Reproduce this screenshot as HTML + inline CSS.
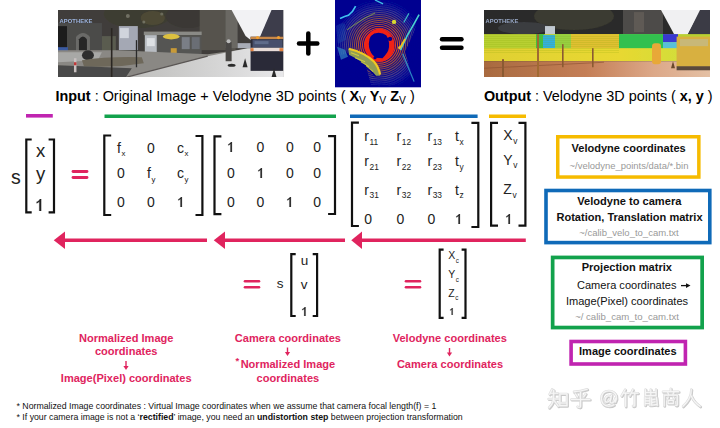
<!DOCTYPE html>
<html><head><meta charset="utf-8"><style>
html,body{margin:0;padding:0;background:#fff;}
body{width:720px;height:428px;position:relative;overflow:hidden;font-family:"Liberation Sans", sans-serif;}
.t{position:absolute;white-space:nowrap;line-height:1;}
.sb{font-size:0.72em;font-weight:normal;vertical-align:-0.25em;}
.sx{font-size:0.56em;vertical-align:-0.45em;margin-left:0.6px;}
.sy{font-size:0.56em;vertical-align:-0.45em;margin-left:0.6px;}
.sr{font-size:0.6em;vertical-align:-0.45em;margin-left:0.6px;}
.sc{font-size:0.6em;vertical-align:-0.6em;margin-left:0.5px;}
.one{display:inline-block;width:0.556em;height:0.72em;position:relative;}
.one svg{position:absolute;left:0;top:0;width:100%;height:100%;}
.ast{font-size:0.7em;vertical-align:0.45em;}
svg{position:absolute;left:0;top:0;}
</style></head><body>
<svg style="position:absolute;left:58px;top:10px" width="225.5" height="67.3" viewBox="0 0 226 67" preserveAspectRatio="none">
<defs>
<filter id="bl1" x="-5%" y="-5%" width="110%" height="110%"><feGaussianBlur stdDeviation="0.7"/></filter>
<linearGradient id="road" x1="0" y1="0" x2="1" y2="0"><stop offset="0" stop-color="#bdbdbb"/><stop offset="0.6" stop-color="#d6d6d6"/><stop offset="1" stop-color="#e8e8ea"/></linearGradient>
<clipPath id="sc"><rect width="226" height="67"/></clipPath>
</defs>
<g filter="url(#bl1)" clip-path="url(#sc)">
<rect width="226" height="67" fill="#403e3a"/>
<!-- canopy -->
<ellipse cx="80" cy="4" rx="34" ry="14" fill="#3e3c30"/>
<ellipse cx="95" cy="8" rx="12" ry="7" fill="#4e4a36"/>
<ellipse cx="130" cy="6" rx="22" ry="12" fill="#3a3934"/>
<circle cx="70" cy="6" r="2" fill="#707064"/><circle cx="104" cy="4" r="1.6" fill="#6a6a5a"/><circle cx="86" cy="12" r="1.5" fill="#707060"/>
<!-- left building -->
<rect x="0" y="13" width="44" height="28" fill="#4c4c4a"/>
<rect x="0" y="16" width="9" height="24" fill="#1e1e1e"/>
<path d="M18 41 V27 Q25 19 32 27 V41 Z" fill="#6a6a68"/>
<path d="M21 41 V29 Q25 24 29 29 V41 Z" fill="#262626"/>
<text x="1.5" y="12.6" font-family="Liberation Sans" font-weight="bold" font-size="5.8" fill="#9cb4e0" letter-spacing="0.1">APOTHEKE</text>
<rect x="0" y="37" width="10" height="6" fill="#3a5aa0"/>
<rect x="0" y="43" width="6" height="4" fill="#c04030"/>
<!-- white building -->
<rect x="61" y="16" width="19" height="24" fill="#a4a8b4"/>
<rect x="62" y="18" width="9" height="10" fill="#d0d4dc"/>
<rect x="44" y="26" width="14" height="15" fill="#5a5c50"/>
<!-- middle buildings -->
<rect x="142" y="0" width="36" height="40" fill="#56534e"/>
<rect x="168" y="0" width="12" height="38" fill="#6a6864"/>
<!-- sky -->
<path d="M174 0 H215 L203 27 L196 32 L188 26 Z" fill="#f2f2f4"/>
<path d="M214 0 H226 V30 H201 Z" fill="#3c3c4c"/>
<!-- shelter -->
<rect x="86" y="21.5" width="58" height="3.5" fill="#8a8a86"/>
<rect x="99" y="25" width="45" height="23" fill="#545452"/>
<rect x="124" y="27" width="8" height="12" fill="#7a7e86"/><rect x="134" y="27" width="8" height="12" fill="#6a6e74"/>
<rect x="87" y="25" width="12" height="22" fill="#b8bcc2"/>
<rect x="89" y="28" width="8" height="8" fill="#dde0e4"/>
<ellipse cx="113.5" cy="26.5" rx="8.5" ry="2.8" fill="#dcc040"/>
<rect x="113" y="38" width="6" height="10" fill="#c89a38"/>
<!-- plaza / sidewalk -->
<path d="M0 40 H60 L150 44 L200 37 L226 37 V67 H0 Z" fill="#8a8884"/>
<path d="M0 42 H44 L40 50 L0 52 Z" fill="#a8a8a6"/>
<ellipse cx="30" cy="45" rx="6" ry="5" fill="#2e2e2e"/>
<path d="M24 50 Q50 46 84 47 L86 53 Q56 58 26 56 Z" fill="#6e685a"/>
<path d="M0 55 L74 58 L68 67 H0 Z" fill="#4a4a48"/>
<!-- road -->
<path d="M68 67 L150 46 L190 38 L226 38 V67 Z" fill="url(#road)"/>
<path d="M68 67 L150 46" stroke="#5a5654" stroke-width="1.2"/>
<!-- cyclist -->
<rect x="168" y="32" width="6" height="19" fill="#4a4644"/>
<circle cx="171" cy="31" r="2" fill="#bbb"/>
<ellipse cx="174" cy="55" rx="4" ry="1.6" fill="#2a2a2a"/>
<rect x="180" y="33" width="14" height="5" fill="#a8acb6"/>
<!-- truck -->
<rect x="193" y="26.6" width="33" height="34" fill="#2c2c38"/>
<rect x="193" y="26.6" width="33" height="2.4" fill="#c88848"/>
<circle cx="200" cy="27.5" r="1.6" fill="#f0a030"/><circle cx="221" cy="27.5" r="1.6" fill="#f0a030"/>
<rect x="195" y="29.5" width="30" height="8" fill="#46506c"/>
<rect x="197" y="31" width="14" height="3" fill="#6a7898" opacity="0.7"/>
<rect x="193" y="37.6" width="33" height="3.4" fill="#e8dcd8"/>
<rect x="193" y="38" width="3" height="3" fill="#e08040"/><rect x="222" y="38" width="4" height="3" fill="#e08040"/>
<!-- cones -->
<path d="M185 57 L187.5 48 L190 57 Z" fill="#2a2a2a"/>
<path d="M214 67 L216.5 58 L219 67 Z" fill="#2a2a2a"/>
<!-- poles -->
<rect x="16" y="48" width="2.5" height="14" fill="#c8c0c0"/><rect x="16" y="52" width="2.5" height="3" fill="#c03838"/>
<rect x="53" y="18" width="1.6" height="49" fill="#2a2824"/>
<rect x="78" y="30" width="1.3" height="27" fill="#2a2a2a"/>
</g>
</svg><svg style="position:absolute;left:334.6px;top:0px" width="86.1" height="87.6" viewBox="0 0 86 88" preserveAspectRatio="none">
<defs>
<filter id="bl2" x="-5%" y="-5%" width="110%" height="110%"><feGaussianBlur stdDeviation="0.45"/></filter>
<radialGradient id="rg" cx="44" cy="45" r="46" gradientUnits="userSpaceOnUse">
<stop offset="0.32" stop-color="#f04018"/><stop offset="0.44" stop-color="#c85a28"/><stop offset="0.56" stop-color="#8a5048"/><stop offset="0.72" stop-color="#4a4088"/><stop offset="1" stop-color="#2038b0"/></radialGradient>
<radialGradient id="rf" cx="44" cy="45" r="46" gradientUnits="userSpaceOnUse">
<stop offset="0.75" stop-color="#fff" stop-opacity="1"/><stop offset="1" stop-color="#fff" stop-opacity="0"/></radialGradient>
<mask id="lm"><rect width="86" height="88" fill="url(#rf)"/></mask>
<clipPath id="lc"><rect width="86" height="88"/></clipPath>
</defs>
<g filter="url(#bl2)" clip-path="url(#lc)">
<rect width="86" height="88" fill="#000090"/>
<g mask="url(#lm)">
<path d="M0 23 L10 20 L16 0 L70 0 L84 12 L80 30 L70 52 L80 86 L36 86 L30 62 L16 52 L2 57 Z" fill="url(#rg)"/>
<circle cx="44" cy="45" r="15.5" fill="none" stroke="#000090" stroke-width="1.05" opacity="0.85"/><circle cx="44" cy="45" r="17.5" fill="none" stroke="#000090" stroke-width="1.05" opacity="0.85"/><circle cx="44" cy="45" r="19.5" fill="none" stroke="#000090" stroke-width="1.05" opacity="0.85"/><circle cx="44" cy="45" r="21.5" fill="none" stroke="#000090" stroke-width="1.05" opacity="0.85"/><circle cx="44" cy="45" r="23.5" fill="none" stroke="#000090" stroke-width="1.05" opacity="0.85"/><circle cx="44" cy="45" r="25.5" fill="none" stroke="#000090" stroke-width="1.05" opacity="0.85"/><circle cx="44" cy="45" r="27.5" fill="none" stroke="#000090" stroke-width="1.05" opacity="0.85"/><circle cx="44" cy="45" r="29.5" fill="none" stroke="#000090" stroke-width="1.05" opacity="0.85"/><circle cx="44" cy="45" r="31.5" fill="none" stroke="#000090" stroke-width="1.05" opacity="0.85"/><circle cx="44" cy="45" r="33.5" fill="none" stroke="#000090" stroke-width="1.05" opacity="0.85"/><circle cx="44" cy="45" r="35.5" fill="none" stroke="#000090" stroke-width="1.05" opacity="0.85"/><circle cx="44" cy="45" r="37.5" fill="none" stroke="#000090" stroke-width="1.05" opacity="0.85"/><circle cx="44" cy="45" r="39.5" fill="none" stroke="#000090" stroke-width="1.05" opacity="0.85"/><circle cx="44" cy="45" r="41.5" fill="none" stroke="#000090" stroke-width="1.05" opacity="0.85"/><circle cx="44" cy="45" r="43.5" fill="none" stroke="#000090" stroke-width="1.05" opacity="0.85"/><circle cx="44" cy="45" r="45.5" fill="none" stroke="#000090" stroke-width="1.05" opacity="0.85"/><circle cx="44" cy="45" r="47.5" fill="none" stroke="#000090" stroke-width="1.05" opacity="0.85"/><circle cx="44" cy="45" r="49.5" fill="none" stroke="#000090" stroke-width="1.05" opacity="0.85"/><circle cx="44" cy="45" r="51.5" fill="none" stroke="#000090" stroke-width="1.05" opacity="0.85"/><circle cx="44" cy="45" r="53.5" fill="none" stroke="#000090" stroke-width="1.05" opacity="0.85"/><circle cx="44" cy="45" r="55.5" fill="none" stroke="#000090" stroke-width="1.05" opacity="0.85"/><circle cx="44" cy="45" r="57.5" fill="none" stroke="#000090" stroke-width="1.05" opacity="0.85"/><circle cx="44" cy="45" r="59.5" fill="none" stroke="#000090" stroke-width="1.05" opacity="0.85"/>
</g>
<ellipse cx="44.5" cy="45.5" rx="15" ry="16.5" fill="#f02414"/>
<path d="M33.8 44 Q33.8 33.5 43.5 33 Q53.5 33 54 43.5 Q54.5 51 50.5 55 L47.5 58.5 L40.5 58 L37 54.5 Q33.8 50 33.8 44 Z" fill="#000090"/>
<circle cx="55" cy="39" r="2.2" fill="#000090"/>
<circle cx="40" cy="58" r="1.6" fill="#000090"/>
<!-- yellow arc lower-left -->
<path d="M13 48 Q28 52 38 62 Q44 69 45 76 L40 77 Q34 70 26 64 Q18 59 12 57 Z" fill="#000090"/>
<path d="M13 48.5 Q28 52 38 62 Q44 69 45 76 L41 76 Q36 69 28 63 Q20 58 14 55 Z" fill="#c0d040" opacity="0.75"/>
<path d="M16 53 L24 56 M20 58 L30 62 M26 62 L34 67 M31 66 L38 72" stroke="#e0d838" stroke-width="1" opacity="0.8"/>
<path d="M14 49 Q30 53 39 62 Q44 68 45 75" fill="none" stroke="#f0c820" stroke-width="2.2"/>
<path d="M2 47 L10 50 L13 57 L6 60 Z" fill="#3898c8" opacity="0.6"/>
<path d="M1 26 Q6 22 10 24 L11 40 L3 44 Z" fill="#2878c0" opacity="0.25"/>
<!-- cyan streaks -->
<path d="M5 18.5 Q10 16.5 13.4 15.4 Q18 12 20.6 6.2" fill="none" stroke="#40c0f0" stroke-width="1.6"/>
<path d="M40 0 L48 4" fill="none" stroke="#40c0e8" stroke-width="1.4"/>
<path d="M84 14.7 Q78 26 72 36 L65.4 50.4" fill="none" stroke="#48d0d0" stroke-width="1.6"/>
<path d="M70 39 L65 48" fill="none" stroke="#f0c020" stroke-width="1.8"/>
<path d="M73.8 13.4 L68.7 22.6" fill="none" stroke="#40b8c8" stroke-width="1.2"/>
<circle cx="59" cy="22" r="2.2" fill="#d8d830"/>
<path d="M12 30 Q20 24 30 18 L40 13" fill="none" stroke="#98b848" stroke-width="1.1" opacity="0.6"/>
<path d="M67.6 54 L79 82" fill="none" stroke="#38b8d8" stroke-width="1.3" opacity="0.7"/>
<circle cx="64.5" cy="48" r="1.5" fill="#f0c030"/>
</g>
</svg><svg style="position:absolute;left:484px;top:10px" width="226" height="67.3" viewBox="0 0 226 67" preserveAspectRatio="none">
<defs>
<filter id="bl3" x="-5%" y="-5%" width="110%" height="110%"><feGaussianBlur stdDeviation="0.7"/></filter>
<linearGradient id="yb" x1="0" y1="0" x2="1" y2="0"><stop offset="0" stop-color="#e0d030"/><stop offset="0.6" stop-color="#e8d830"/><stop offset="1" stop-color="#c8e040"/></linearGradient>
<linearGradient id="road2" x1="0" y1="0" x2="1" y2="0"><stop offset="0" stop-color="#a86a40"/><stop offset="0.45" stop-color="#c47e56"/><stop offset="0.75" stop-color="#dca888"/><stop offset="1" stop-color="#e4c0a4"/></linearGradient>
<clipPath id="oc"><rect width="226" height="67"/></clipPath>
</defs>
<g filter="url(#bl3)" clip-path="url(#oc)">
<rect width="226" height="67" fill="#2c2c2a"/>
<ellipse cx="90" cy="6" rx="40" ry="14" fill="#3a3a30"/>
<ellipse cx="40" cy="18" rx="26" ry="6" fill="#3a3c40"/>
<text x="1.5" y="12.6" font-family="Liberation Sans" font-weight="bold" font-size="5.8" fill="#98a8c8" letter-spacing="0.1">APOTHEKE</text>
<rect x="139" y="0" width="40" height="25" fill="#4e4c48"/><rect x="150" y="2" width="10" height="20" fill="#5e5a54"/>
<path d="M177 0 H217 L203 26 L197 29 L190 24 Z" fill="#f0f0f2"/>
<path d="M216 0 H226 V28 H202 Z" fill="#3a3a44"/>
<rect x="61" y="16" width="10" height="12" fill="#c0c8d0"/>
<!-- band -->
<rect x="0" y="24" width="226" height="20" fill="#b8d030"/>
<rect x="52" y="24" width="8" height="16" fill="#40c040"/>
<rect x="59" y="25" width="12" height="13" fill="#30b0e0"/>
<rect x="71" y="24" width="16" height="16" fill="#98d040"/>
<rect x="87" y="24" width="48" height="18" fill="#e0c030"/>
<rect x="135" y="24" width="44" height="16" fill="#30c050"/>
<rect x="179" y="24" width="15" height="8" fill="#3838d0"/>
<rect x="179" y="32" width="15" height="8" fill="#58c0d8"/>
<rect x="0" y="38" width="226" height="13" fill="url(#yb)"/>
<rect x="0" y="26" width="135" height="0.5" fill="#80a020" opacity="0.35"/><rect x="0" y="28" width="135" height="0.5" fill="#80a020" opacity="0.35"/><rect x="0" y="30" width="135" height="0.5" fill="#80a020" opacity="0.35"/><rect x="0" y="32" width="135" height="0.5" fill="#80a020" opacity="0.35"/><rect x="0" y="34" width="135" height="0.5" fill="#80a020" opacity="0.35"/><rect x="0" y="36" width="135" height="0.5" fill="#80a020" opacity="0.35"/><rect x="0" y="38" width="135" height="0.5" fill="#80a020" opacity="0.35"/><rect x="0" y="40" width="135" height="0.5" fill="#80a020" opacity="0.35"/><rect x="0" y="42" width="135" height="0.5" fill="#80a020" opacity="0.35"/>
<!-- road -->
<rect x="0" y="51" width="226" height="16" fill="url(#road2)"/>
<path d="M0 58 L120 52" stroke="#8a5030" stroke-width="1" opacity="0.6"/>
<!-- person -->
<rect x="168" y="33" width="9" height="21" rx="3" fill="#e8a838"/>
<!-- truck -->
<rect x="192.6" y="26.5" width="34" height="30" fill="#d8b040"/>
<rect x="196" y="29" width="28" height="7" fill="#c8b878"/>
<rect x="192.6" y="56" width="34" height="4" fill="#5a4a3a"/>
<path d="M187 58 L189 51 L191 58 Z" fill="#6a4a2a"/>
<!-- posts -->
<rect x="18" y="49" width="2" height="18" fill="#8a5a30"/>
<rect x="53" y="24" width="2" height="43" fill="#a06a30"/>
<rect x="78" y="34" width="1.6" height="23" fill="#8a5a30"/>
<rect x="108" y="38" width="1.6" height="19" fill="#8a5a30"/>
</g>
</svg>
<svg width="720" height="428" viewBox="0 0 720 428"><line x1="26" y1="115.8" x2="52.8" y2="115.8" stroke="#c024b0" stroke-width="3.6" stroke-linecap="butt"/><line x1="104.5" y1="116.3" x2="336" y2="116.3" stroke="#12a24c" stroke-width="3.5" stroke-linecap="butt"/><line x1="350" y1="116.2" x2="477.6" y2="116.2" stroke="#0f6ab8" stroke-width="3.4" stroke-linecap="butt"/><line x1="489" y1="116.3" x2="526" y2="116.3" stroke="#f6bb00" stroke-width="3.5" stroke-linecap="butt"/><line x1="299" y1="43.4" x2="317.3" y2="43.4" stroke="#000" stroke-width="4.5" stroke-linecap="round"/><line x1="308.3" y1="33.4" x2="308.3" y2="53.4" stroke="#000" stroke-width="4.5" stroke-linecap="round"/><line x1="442" y1="39.3" x2="461.5" y2="39.3" stroke="#000" stroke-width="4.4" stroke-linecap="round"/><line x1="442" y1="47.7" x2="461.5" y2="47.7" stroke="#000" stroke-width="4.4" stroke-linecap="round"/><path d="M31.7 139.5 H26.3 V212.3 H31.7" fill="none" stroke="#111" stroke-width="2.2" stroke-linejoin="miter"/><path d="M48.6 139.5 H54.0 V212.3 H48.6" fill="none" stroke="#111" stroke-width="2.2" stroke-linejoin="miter"/><line x1="73" y1="171.5" x2="87" y2="171.5" stroke="#e0245e" stroke-width="2.8" stroke-linecap="round"/><line x1="73" y1="177.5" x2="87" y2="177.5" stroke="#e0245e" stroke-width="2.8" stroke-linecap="round"/><path d="M111.2 135.5 H104.3 V215 H111.2" fill="none" stroke="#111" stroke-width="2.2" stroke-linejoin="miter"/><path d="M195.5 136 H202.4 V215 H195.5" fill="none" stroke="#111" stroke-width="2.2" stroke-linejoin="miter"/><path d="M221.4 136.3 H214.5 V214.1 H221.4" fill="none" stroke="#111" stroke-width="2.2" stroke-linejoin="miter"/><path d="M328.1 136.1 H335.0 V214 H328.1" fill="none" stroke="#111" stroke-width="2.2" stroke-linejoin="miter"/><path d="M358.9 122.7 H352.0 V226 H358.9" fill="none" stroke="#111" stroke-width="2.2" stroke-linejoin="miter"/><path d="M471.4 122.8 H478.29999999999995 V227 H471.4" fill="none" stroke="#111" stroke-width="2.2" stroke-linejoin="miter"/><path d="M498 122.8 H491.1 V225.7 H498" fill="none" stroke="#111" stroke-width="2.2" stroke-linejoin="miter"/><path d="M518.5 122.8 H525.4 V225.7 H518.5" fill="none" stroke="#111" stroke-width="2.2" stroke-linejoin="miter"/><line x1="64" y1="240.3" x2="207" y2="240.3" stroke="#e0245e" stroke-width="3.5"/><path d="M53.75 240.3 L65 231.55 L65 249.05 Z" fill="#e0245e"/><line x1="224" y1="240.3" x2="345" y2="240.3" stroke="#e0245e" stroke-width="3.5"/><path d="M213.75 240.3 L225 231.55 L225 249.05 Z" fill="#e0245e"/><line x1="361" y1="240.3" x2="525.8" y2="240.3" stroke="#e0245e" stroke-width="3.5"/><path d="M351.25 240.3 L362 231.55 L362 249.05 Z" fill="#e0245e"/><line x1="245" y1="281.2" x2="259" y2="281.2" stroke="#e0245e" stroke-width="2.6" stroke-linecap="round"/><line x1="245" y1="287.2" x2="259" y2="287.2" stroke="#e0245e" stroke-width="2.6" stroke-linecap="round"/><path d="M295.7 254.2 H291.3 V316 H295.7" fill="none" stroke="#111" stroke-width="2.2" stroke-linejoin="miter"/><path d="M312.7 254.2 H317.09999999999997 V316 H312.7" fill="none" stroke="#111" stroke-width="2.2" stroke-linejoin="miter"/><line x1="406" y1="281.2" x2="420" y2="281.2" stroke="#e0245e" stroke-width="2.6" stroke-linecap="round"/><line x1="406" y1="287.2" x2="420" y2="287.2" stroke="#e0245e" stroke-width="2.6" stroke-linecap="round"/><path d="M443.6 249.7 H439.70000000000005 V317.9 H443.6" fill="none" stroke="#111" stroke-width="2.2" stroke-linejoin="miter"/><path d="M461.6 249.7 H465.5 V317.9 H461.6" fill="none" stroke="#111" stroke-width="2.2" stroke-linejoin="miter"/><rect x="557.75" y="136.75" width="141.10000000000002" height="40.30000000000001" fill="none" stroke="#f6bb00" stroke-width="3.5"/><rect x="546.0" y="190.5" width="163.79999999999998" height="52.100000000000016" fill="none" stroke="#0f6ab8" stroke-width="3.6"/><rect x="552.65" y="257.45" width="149.50000000000006" height="70.09999999999998" fill="none" stroke="#12a24c" stroke-width="3.7"/><path d="M681 285.6 H687" stroke="#111" stroke-width="1.3"/><path d="M690.5 285.6 L686 283.3 L686 287.9 Z" fill="#111"/><rect x="571.0999999999999" y="341.5" width="114.3000000000001" height="22.50000000000002" fill="none" stroke="#c024b0" stroke-width="3.6"/><path d="M126 361 V367" stroke="#e0245e" stroke-width="1.4"/><path d="M123.4 366 L128.6 366 L126 370 Z" fill="#e0245e"/><path d="M287.5 347.5 V353" stroke="#e0245e" stroke-width="1.4"/><path d="M284.9 352 L290.1 352 L287.5 356 Z" fill="#e0245e"/><path d="M449.5 348 V353.5" stroke="#e0245e" stroke-width="1.4"/><path d="M446.9 352.5 L452.1 352.5 L449.5 356.5 Z" fill="#e0245e"/><g fill="none" stroke-linecap="round" stroke-linejoin="round"><g transform="translate(548.7 389.0) scale(1.025)"><path d="M4 1 L1.5 6 M2 5 H9.5 M0.5 10.5 H10.5 M5.5 2 V10.5 Q5 15 1 19 M6 12 L10 17.5 M11.5 5.5 H18.5 V17 H11.5 Z M11.5 14.5 H18.5" stroke="#c8c8c8" stroke-width="2.54"/></g><g transform="translate(548 388.2) scale(1.025)"><path d="M4 1 L1.5 6 M2 5 H9.5 M0.5 10.5 H10.5 M5.5 2 V10.5 Q5 15 1 19 M6 12 L10 17.5 M11.5 5.5 H18.5 V17 H11.5 Z M11.5 14.5 H18.5" stroke="#dedede" stroke-width="2.34"/><path d="M4 1 L1.5 6 M2 5 H9.5 M0.5 10.5 H10.5 M5.5 2 V10.5 Q5 15 1 19 M6 12 L10 17.5 M11.5 5.5 H18.5 V17 H11.5 Z M11.5 14.5 H18.5" stroke="#f6f6f6" stroke-width="1.07"/></g><g transform="translate(571.0 389.0) scale(1.025)"><path d="M16.5 1 Q10 3 3.5 3.5 M5 5.5 L7 8.5 M15 5.5 L13 8.5 M1 11 H19 M10 4 V17.5 Q10 19.5 7 18" stroke="#c8c8c8" stroke-width="2.54"/></g><g transform="translate(570.3 388.2) scale(1.025)"><path d="M16.5 1 Q10 3 3.5 3.5 M5 5.5 L7 8.5 M15 5.5 L13 8.5 M1 11 H19 M10 4 V17.5 Q10 19.5 7 18" stroke="#dedede" stroke-width="2.34"/><path d="M16.5 1 Q10 3 3.5 3.5 M5 5.5 L7 8.5 M15 5.5 L13 8.5 M1 11 H19 M10 4 V17.5 Q10 19.5 7 18" stroke="#f6f6f6" stroke-width="1.07"/></g><g transform="translate(600.7 390.8) scale(0.925)"><path d="M16.5 13 Q18.5 9 17.5 6 Q15 1 9.5 1 Q2 1 1.5 9 Q1.5 17 9.5 17.5 Q13 17.5 15 16 M12.5 5.5 L11 12.5 Q11 14 13 14 Q16 13 16.5 9 M12 8 Q10.5 5.5 8 6.5 Q5 8.5 5.5 12 Q6.5 14 9 12.5 Q11 11 12 8" stroke="#c8c8c8" stroke-width="2.81"/></g><g transform="translate(600 390) scale(0.925)"><path d="M16.5 13 Q18.5 9 17.5 6 Q15 1 9.5 1 Q2 1 1.5 9 Q1.5 17 9.5 17.5 Q13 17.5 15 16 M12.5 5.5 L11 12.5 Q11 14 13 14 Q16 13 16.5 9 M12 8 Q10.5 5.5 8 6.5 Q5 8.5 5.5 12 Q6.5 14 9 12.5 Q11 11 12 8" stroke="#dedede" stroke-width="2.59"/><path d="M16.5 13 Q18.5 9 17.5 6 Q15 1 9.5 1 Q2 1 1.5 9 Q1.5 17 9.5 17.5 Q13 17.5 15 16 M12.5 5.5 L11 12.5 Q11 14 13 14 Q16 13 16.5 9 M12 8 Q10.5 5.5 8 6.5 Q5 8.5 5.5 12 Q6.5 14 9 12.5 Q11 11 12 8" stroke="#f6f6f6" stroke-width="1.19"/></g><g transform="translate(621.3000000000001 389.40000000000003) scale(0.910)"><path d="M5 1 L1 8 M3 5 H9 M5.5 4.5 V19.5 M13.5 1 L10 8 M11.5 5 H19 M15.5 4.5 V18.5 Q15.5 19.5 13.5 19" stroke="#c8c8c8" stroke-width="2.86"/></g><g transform="translate(620.6 388.6) scale(0.910)"><path d="M5 1 L1 8 M3 5 H9 M5.5 4.5 V19.5 M13.5 1 L10 8 M11.5 5 H19 M15.5 4.5 V18.5 Q15.5 19.5 13.5 19" stroke="#dedede" stroke-width="2.64"/><path d="M5 1 L1 8 M3 5 H9 M5.5 4.5 V19.5 M13.5 1 L10 8 M11.5 5 H19 M15.5 4.5 V18.5 Q15.5 19.5 13.5 19" stroke="#f6f6f6" stroke-width="1.21"/></g><g transform="translate(642.7 389.40000000000003) scale(0.875)"><path d="M4 1 V8 H16 V1 M4 4.5 H16 M10 1 V8 M3.5 10 V19 M3.5 11 H9 M3.5 14 H9 M3.5 17 H9 M9 10 V19 M11 10.5 L11 19 L17.5 18 M11 13 L15 12 M11 16 L15 15 M16.5 10 L17.5 19" stroke="#c8c8c8" stroke-width="2.97"/></g><g transform="translate(642 388.6) scale(0.875)"><path d="M4 1 V8 H16 V1 M4 4.5 H16 M10 1 V8 M3.5 10 V19 M3.5 11 H9 M3.5 14 H9 M3.5 17 H9 M9 10 V19 M11 10.5 L11 19 L17.5 18 M11 13 L15 12 M11 16 L15 15 M16.5 10 L17.5 19" stroke="#dedede" stroke-width="2.74"/><path d="M4 1 V8 H16 V1 M4 4.5 H16 M10 1 V8 M3.5 10 V19 M3.5 11 H9 M3.5 14 H9 M3.5 17 H9 M9 10 V19 M11 10.5 L11 19 L17.5 18 M11 13 L15 12 M11 16 L15 15 M16.5 10 L17.5 19" stroke="#f6f6f6" stroke-width="1.26"/></g><g transform="translate(662.7 389.40000000000003) scale(0.875)"><path d="M10 0 V2.5 M1 3.5 H19 M6.5 4.5 L7.5 6.5 M13.5 4.5 L12.5 6.5 M2.5 7.5 V19.5 M2.5 7.5 H17.5 V18.5 Q17.5 19.5 15.5 19 M7 10 L6 12 M13 10 L14 12 M7 13.5 H13 V17 H7 Z" stroke="#c8c8c8" stroke-width="2.97"/></g><g transform="translate(662 388.6) scale(0.875)"><path d="M10 0 V2.5 M1 3.5 H19 M6.5 4.5 L7.5 6.5 M13.5 4.5 L12.5 6.5 M2.5 7.5 V19.5 M2.5 7.5 H17.5 V18.5 Q17.5 19.5 15.5 19 M7 10 L6 12 M13 10 L14 12 M7 13.5 H13 V17 H7 Z" stroke="#dedede" stroke-width="2.74"/><path d="M10 0 V2.5 M1 3.5 H19 M6.5 4.5 L7.5 6.5 M13.5 4.5 L12.5 6.5 M2.5 7.5 V19.5 M2.5 7.5 H17.5 V18.5 Q17.5 19.5 15.5 19 M7 10 L6 12 M13 10 L14 12 M7 13.5 H13 V17 H7 Z" stroke="#f6f6f6" stroke-width="1.26"/></g><g transform="translate(682.7 389.40000000000003) scale(0.930)"><path d="M10 1 Q10 11 1 19 M10 8 Q13 15 19.5 19" stroke="#c8c8c8" stroke-width="2.80"/></g><g transform="translate(682 388.6) scale(0.930)"><path d="M10 1 Q10 11 1 19 M10 8 Q13 15 19.5 19" stroke="#dedede" stroke-width="2.58"/><path d="M10 1 Q10 11 1 19 M10 8 Q13 15 19.5 19" stroke="#f6f6f6" stroke-width="1.18"/></g></g></svg>
<div class="t" style="left:55.50px;top:89.11px;font-size:14.4px;font-weight:normal;color:#000;"><b>Input</b> : Original Image + Velodyne 3D points ( <b>X<span class="sb">V</span> Y<span class="sb">V</span> Z<span class="sb">V</span></b> )</div><div class="t" style="left:483.90px;top:89.11px;font-size:14.4px;font-weight:normal;color:#000;"><b>Output</b> : Velodyne 3D points ( <b>x, y</b> )</div><div class="t" style="left:11.00px;top:167.79px;font-size:19.5px;font-weight:normal;color:#000;color:#222">s</div><div class="t" style="left:-259.50px;width:600px;text-align:center;top:141.94px;font-size:18.5px;font-weight:normal;color:#000;color:#222">x</div><div class="t" style="left:-259.50px;width:600px;text-align:center;top:164.94px;font-size:18.5px;font-weight:normal;color:#000;color:#222">y</div><div class="t" style="left:-259.80px;width:600px;text-align:center;top:197.19px;font-size:17.5px;font-weight:normal;color:#000;color:#222"><span class="one"><svg viewBox="0 0 1139 1409" preserveAspectRatio="none"><path d="M505 1409 H720 V0 H575 Q530 109 430 189 Q330 269 197 319 V479 Q290 444 380 389 Q460 339 505 289 Z" fill="currentColor" stroke="currentColor" stroke-width="30"/></svg></span></div><div class="t" style="left:117.00px;top:140.55px;font-size:14px;font-weight:normal;color:#000;color:#222">f<span class="sx">x</span></div><div class="t" style="left:147.00px;top:140.55px;font-size:14px;font-weight:normal;color:#000;color:#222">0</div><div class="t" style="left:177.00px;top:140.55px;font-size:14px;font-weight:normal;color:#000;color:#222">c<span class="sx">x</span></div><div class="t" style="left:117.00px;top:166.15px;font-size:14px;font-weight:normal;color:#000;color:#222">0</div><div class="t" style="left:147.00px;top:166.15px;font-size:14px;font-weight:normal;color:#000;color:#222">f<span class="sy">y</span></div><div class="t" style="left:177.00px;top:166.15px;font-size:14px;font-weight:normal;color:#000;color:#222">c<span class="sy">y</span></div><div class="t" style="left:117.00px;top:194.85px;font-size:14px;font-weight:normal;color:#000;color:#222">0</div><div class="t" style="left:147.00px;top:194.85px;font-size:14px;font-weight:normal;color:#000;color:#222">0</div><div class="t" style="left:177.00px;top:194.85px;font-size:14px;font-weight:normal;color:#000;color:#222"><span class="one"><svg viewBox="0 0 1139 1409" preserveAspectRatio="none"><path d="M505 1409 H720 V0 H575 Q530 109 430 189 Q330 269 197 319 V479 Q290 444 380 389 Q460 339 505 289 Z" fill="currentColor" stroke="currentColor" stroke-width="30"/></svg></span></div><div class="t" style="left:227.00px;top:140.15px;font-size:14px;font-weight:normal;color:#000;color:#222"><span class="one"><svg viewBox="0 0 1139 1409" preserveAspectRatio="none"><path d="M505 1409 H720 V0 H575 Q530 109 430 189 Q330 269 197 319 V479 Q290 444 380 389 Q460 339 505 289 Z" fill="currentColor" stroke="currentColor" stroke-width="30"/></svg></span></div><div class="t" style="left:256.50px;top:140.15px;font-size:14px;font-weight:normal;color:#000;color:#222">0</div><div class="t" style="left:286.00px;top:140.15px;font-size:14px;font-weight:normal;color:#000;color:#222">0</div><div class="t" style="left:313.30px;top:140.15px;font-size:14px;font-weight:normal;color:#000;color:#222">0</div><div class="t" style="left:227.00px;top:166.15px;font-size:14px;font-weight:normal;color:#000;color:#222">0</div><div class="t" style="left:256.50px;top:166.15px;font-size:14px;font-weight:normal;color:#000;color:#222"><span class="one"><svg viewBox="0 0 1139 1409" preserveAspectRatio="none"><path d="M505 1409 H720 V0 H575 Q530 109 430 189 Q330 269 197 319 V479 Q290 444 380 389 Q460 339 505 289 Z" fill="currentColor" stroke="currentColor" stroke-width="30"/></svg></span></div><div class="t" style="left:286.00px;top:166.15px;font-size:14px;font-weight:normal;color:#000;color:#222">0</div><div class="t" style="left:313.30px;top:166.15px;font-size:14px;font-weight:normal;color:#000;color:#222">0</div><div class="t" style="left:227.00px;top:194.95px;font-size:14px;font-weight:normal;color:#000;color:#222">0</div><div class="t" style="left:256.50px;top:194.95px;font-size:14px;font-weight:normal;color:#000;color:#222">0</div><div class="t" style="left:286.00px;top:194.95px;font-size:14px;font-weight:normal;color:#000;color:#222"><span class="one"><svg viewBox="0 0 1139 1409" preserveAspectRatio="none"><path d="M505 1409 H720 V0 H575 Q530 109 430 189 Q330 269 197 319 V479 Q290 444 380 389 Q460 339 505 289 Z" fill="currentColor" stroke="currentColor" stroke-width="30"/></svg></span></div><div class="t" style="left:313.30px;top:194.95px;font-size:14px;font-weight:normal;color:#000;color:#222">0</div><div class="t" style="left:364.30px;top:128.75px;font-size:14px;font-weight:normal;color:#000;color:#222">r<span class="sr">11</span></div><div class="t" style="left:396.50px;top:128.75px;font-size:14px;font-weight:normal;color:#000;color:#222">r<span class="sr">12</span></div><div class="t" style="left:427.40px;top:128.75px;font-size:14px;font-weight:normal;color:#000;color:#222">r<span class="sr">13</span></div><div class="t" style="left:455.00px;top:128.75px;font-size:14px;font-weight:normal;color:#000;color:#222">t<span class="sr">x</span></div><div class="t" style="left:364.30px;top:154.35px;font-size:14px;font-weight:normal;color:#000;color:#222">r<span class="sr">21</span></div><div class="t" style="left:396.50px;top:154.35px;font-size:14px;font-weight:normal;color:#000;color:#222">r<span class="sr">22</span></div><div class="t" style="left:427.40px;top:154.35px;font-size:14px;font-weight:normal;color:#000;color:#222">r<span class="sr">23</span></div><div class="t" style="left:455.00px;top:154.35px;font-size:14px;font-weight:normal;color:#000;color:#222">t<span class="sr">y</span></div><div class="t" style="left:364.30px;top:182.55px;font-size:14px;font-weight:normal;color:#000;color:#222">r<span class="sr">31</span></div><div class="t" style="left:396.50px;top:182.55px;font-size:14px;font-weight:normal;color:#000;color:#222">r<span class="sr">32</span></div><div class="t" style="left:427.40px;top:182.55px;font-size:14px;font-weight:normal;color:#000;color:#222">r<span class="sr">33</span></div><div class="t" style="left:455.00px;top:182.55px;font-size:14px;font-weight:normal;color:#000;color:#222">t<span class="sr">z</span></div><div class="t" style="left:364.30px;top:212.15px;font-size:14px;font-weight:normal;color:#000;color:#222">0</div><div class="t" style="left:396.50px;top:212.15px;font-size:14px;font-weight:normal;color:#000;color:#222">0</div><div class="t" style="left:427.40px;top:212.15px;font-size:14px;font-weight:normal;color:#000;color:#222">0</div><div class="t" style="left:455.00px;top:212.15px;font-size:14px;font-weight:normal;color:#000;color:#222"><span class="one"><svg viewBox="0 0 1139 1409" preserveAspectRatio="none"><path d="M505 1409 H720 V0 H575 Q530 109 430 189 Q330 269 197 319 V479 Q290 444 380 389 Q460 339 505 289 Z" fill="currentColor" stroke="currentColor" stroke-width="30"/></svg></span></div><div class="t" style="left:503.30px;top:128.35px;font-size:14px;font-weight:normal;color:#000;color:#222">X<span class="sr">v</span></div><div class="t" style="left:503.30px;top:152.55px;font-size:14px;font-weight:normal;color:#000;color:#222">Y<span class="sr">v</span></div><div class="t" style="left:503.30px;top:182.05px;font-size:14px;font-weight:normal;color:#000;color:#222">Z<span class="sr">v</span></div><div class="t" style="left:505.00px;top:212.45px;font-size:14px;font-weight:normal;color:#000;color:#222"><span class="one"><svg viewBox="0 0 1139 1409" preserveAspectRatio="none"><path d="M505 1409 H720 V0 H575 Q530 109 430 189 Q330 269 197 319 V479 Q290 444 380 389 Q460 339 505 289 Z" fill="currentColor" stroke="currentColor" stroke-width="30"/></svg></span></div><div class="t" style="left:276.70px;top:276.77px;font-size:13.5px;font-weight:normal;color:#000;color:#222">s</div><div class="t" style="left:300.70px;top:254.17px;font-size:13.5px;font-weight:normal;color:#000;color:#222">u</div><div class="t" style="left:300.70px;top:278.17px;font-size:13.5px;font-weight:normal;color:#000;color:#222">v</div><div class="t" style="left:301.00px;top:305.00px;font-size:13px;font-weight:normal;color:#000;color:#222"><span class="one"><svg viewBox="0 0 1139 1409" preserveAspectRatio="none"><path d="M505 1409 H720 V0 H575 Q530 109 430 189 Q330 269 197 319 V479 Q290 444 380 389 Q460 339 505 289 Z" fill="currentColor" stroke="currentColor" stroke-width="30"/></svg></span></div><div class="t" style="left:448.30px;top:250.11px;font-size:10.5px;font-weight:normal;color:#000;color:#222">X<span class="sc">c</span></div><div class="t" style="left:448.30px;top:268.81px;font-size:10.5px;font-weight:normal;color:#000;color:#222">Y<span class="sc">c</span></div><div class="t" style="left:448.30px;top:287.51px;font-size:10.5px;font-weight:normal;color:#000;color:#222">Z<span class="sc">c</span></div><div class="t" style="left:448.80px;top:306.11px;font-size:10.5px;font-weight:normal;color:#000;color:#222"><span class="one"><svg viewBox="0 0 1139 1409" preserveAspectRatio="none"><path d="M505 1409 H720 V0 H575 Q530 109 430 189 Q330 269 197 319 V479 Q290 444 380 389 Q460 339 505 289 Z" fill="currentColor" stroke="currentColor" stroke-width="30"/></svg></span></div><div class="t" style="left:328.60px;width:600px;text-align:center;top:143.05px;font-size:11.05px;font-weight:bold;color:#111;">Velodyne coordinates</div><div class="t" style="left:329.00px;width:600px;text-align:center;top:161.20px;font-size:9.45px;font-weight:normal;color:#999;">~/velodyne_points/data/*.bin</div><div class="t" style="left:329.30px;width:600px;text-align:center;top:195.70px;font-size:11.1px;font-weight:bold;color:#111;">Velodyne to camera</div><div class="t" style="left:329.50px;width:600px;text-align:center;top:211.75px;font-size:11.05px;font-weight:bold;color:#111;">Rotation, Translation matrix</div><div class="t" style="left:329.00px;width:600px;text-align:center;top:227.96px;font-size:9.5px;font-weight:normal;color:#999;">~/calib_velo_to_cam.txt</div><div class="t" style="left:326.80px;width:600px;text-align:center;top:262.05px;font-size:11.05px;font-weight:bold;color:#111;">Projection matrix</div><div class="t" style="left:577.00px;top:279.65px;font-size:11.05px;font-weight:normal;color:#111;">Camera coordinates</div><div class="t" style="left:327.00px;width:600px;text-align:center;top:295.65px;font-size:11.05px;font-weight:normal;color:#111;">Image(Pixel) coordinates</div><div class="t" style="left:327.00px;width:600px;text-align:center;top:312.17px;font-size:9.6px;font-weight:normal;color:#999;">~/ calib_cam_to_cam.txt</div><div class="t" style="left:327.80px;width:600px;text-align:center;top:346.45px;font-size:11.05px;font-weight:bold;color:#111;">Image coordinates</div><div class="t" style="left:-173.80px;width:600px;text-align:center;top:332.65px;font-size:11.05px;font-weight:bold;color:#e0245e;">Normalized Image</div><div class="t" style="left:-173.80px;width:600px;text-align:center;top:345.65px;font-size:11.05px;font-weight:bold;color:#e0245e;">coordinates</div><div class="t" style="left:-173.80px;width:600px;text-align:center;top:372.65px;font-size:11.05px;font-weight:bold;color:#e0245e;">Image(Pixel) coordinates</div><div class="t" style="left:-12.10px;width:600px;text-align:center;top:332.65px;font-size:11.05px;font-weight:bold;color:#e0245e;">Camera coordinates</div><div class="t" style="left:-12.10px;width:600px;text-align:center;top:359.40px;font-size:11.05px;font-weight:bold;color:#e0245e;">Normalized Image</div><div class="t" style="left:235.50px;top:356.46px;font-size:9.5px;font-weight:bold;color:#e0245e;">*</div><div class="t" style="left:-12.10px;width:600px;text-align:center;top:372.65px;font-size:11.05px;font-weight:bold;color:#e0245e;">coordinates</div><div class="t" style="left:149.80px;width:600px;text-align:center;top:332.65px;font-size:11.05px;font-weight:bold;color:#e0245e;">Velodyne coordinates</div><div class="t" style="left:150.00px;width:600px;text-align:center;top:359.40px;font-size:11.05px;font-weight:bold;color:#e0245e;">Camera coordinates</div><div class="t" style="left:16.50px;top:401.89px;font-size:8.75px;font-weight:normal;color:#111;">* Normalized Image coordinates : Virtual Image coordinates when we assume that camera focal length(f) = 1</div><div class="t" style="left:16.50px;top:412.59px;font-size:8.75px;font-weight:normal;color:#111;">* If your camera image is not a ‘<b>rectified</b>’ image, you need an <b>undistortion step</b> between projection transformation</div>
</body></html>
